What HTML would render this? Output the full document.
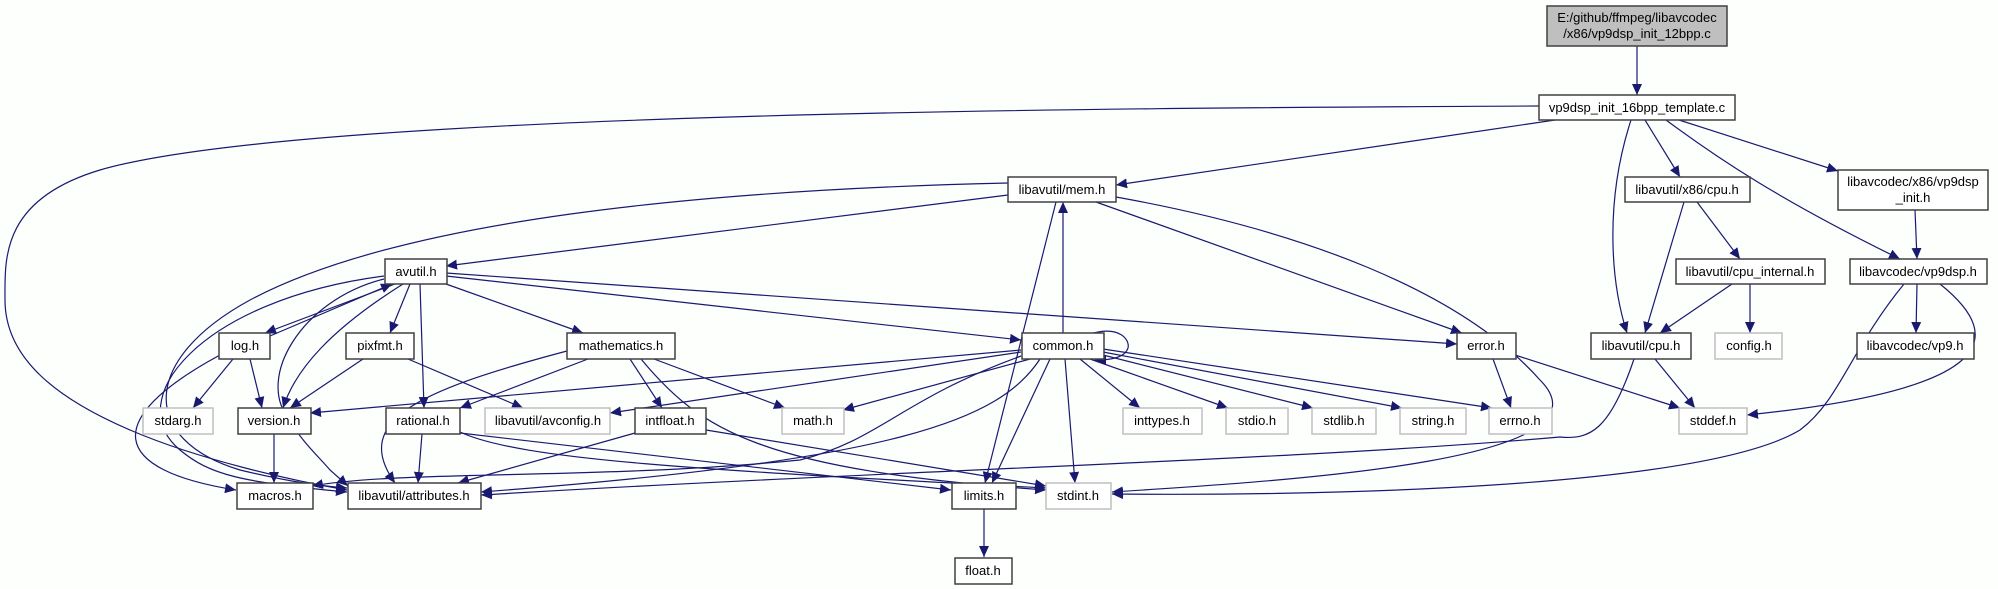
<!DOCTYPE html>
<html><head><meta charset="utf-8"><style>
html,body{margin:0;padding:0;background:#fdfffd}
svg{display:block}
text{font-family:"Liberation Sans",sans-serif;font-size:13px;fill:#000}
.n{fill:#fff;stroke:#404040;stroke-width:1.5}
.g{fill:#fff;stroke:#bfbfbf;stroke-width:1.5}
.m{fill:#bfbfbf;stroke:#404040;stroke-width:1.5}
.e{fill:none;stroke:#191970;stroke-width:1.2;marker-end:url(#a)}
</style></head><body>
<svg width="1998" height="589" viewBox="0 0 1998 589" xmlns="http://www.w3.org/2000/svg">
<defs><marker id="a" markerUnits="userSpaceOnUse" markerWidth="12" markerHeight="10" refX="11" refY="5" orient="auto"><path d="M0,0 L11,5 L0,10 z" fill="#191970"/></marker></defs>
<g>
<path class="e" d="M1637,46 L1637,95"/>
<path class="e" d="M1539,106 C1100,108 300,112 100,170 C0,200 5,260 5,300 C5,360 60,400 130,430 C200,460 290,480 347,490"/>
<path class="e" d="M1555,120 L1116,185"/>
<path class="e" d="M1631,120 C1605,200 1610,280 1627,333"/>
<path class="e" d="M1645,120 L1680,177"/>
<path class="e" d="M1666,120 C1720,160 1780,200 1900,259"/>
<path class="e" d="M1679,120 L1838,171"/>
<path class="e" d="M1915,210 L1917,259"/>
<path class="e" d="M1684,202 L1645,333"/>
<path class="e" d="M1697,202 L1740,259"/>
<path class="e" d="M1732,284 L1660,333"/>
<path class="e" d="M1750,284 L1750,333"/>
<path class="e" d="M1917,284 L1916,333"/>
<path class="e" d="M1940,284 C2010,340 1990,390 1747,415"/>
<path class="e" d="M1904,284 C1850,350 1840,400 1800,430 C1700,490 1300,496 1112,494"/>
<path class="e" d="M1008,195 L446,266"/>
<path class="e" d="M1008,183 C700,190 400,220 250,300 C140,360 140,440 240,470 C290,482 320,486 347,488"/>
<path class="e" d="M1056,202 L985,483"/>
<path class="e" d="M1063,333 L1063,202"/>
<path class="e" d="M1096,202 L1462,333"/>
<path class="e" d="M1116,197 C1300,230 1460,290 1540,380 C1620,460 1300,480 1112,492"/>
<path class="e" d="M395,284 L265,333"/>
<path class="e" d="M270,336 L392,284"/>
<path class="e" d="M403,284 C330,330 295,370 283,408"/>
<path class="e" d="M410,284 L390,333"/>
<path class="e" d="M420,284 L424,408"/>
<path class="e" d="M446,284 L583,333"/>
<path class="e" d="M446,276 L1021,340"/>
<path class="e" d="M446,273 L1457,344"/>
<path class="e" d="M384,276 C200,300 120,400 180,450 C210,475 240,482 347,492"/>
<path class="e" d="M384,279 C300,300 255,380 290,420 C300,440 320,458 330,470 L348,486"/>
<path class="e" d="M233,359 L193,408"/>
<path class="e" d="M250,359 L262,408"/>
<path class="e" d="M220,355 C100,420 110,470 236,490"/>
<path class="e" d="M363,359 L290,408"/>
<path class="e" d="M408,359 L523,408"/>
<path class="e" d="M567,351 C420,390 350,420 395,483"/>
<path class="e" d="M588,359 L460,408"/>
<path class="e" d="M630,359 L662,408"/>
<path class="e" d="M654,359 L785,408"/>
<path class="e" d="M641,359 C700,430 760,470 1046,490"/>
<path class="e" d="M274,434 L274,483"/>
<path class="e" d="M422,434 L418,483"/>
<path class="e" d="M460,433 L951,490"/>
<path class="e" d="M460,432 C520,460 700,470 1046,488"/>
<path class="e" d="M635,433 L458,483"/>
<path class="e" d="M706,430 L1046,486"/>
<path class="e" d="M1021,350 L310,413"/>
<path class="e" d="M1021,352 L610,413"/>
<path class="e" d="M1030,359 L843,410"/>
<path class="e" d="M1021,356 C900,400 880,440 800,460 C600,480 400,470 312,486"/>
<path class="e" d="M1040,359 C1000,420 900,460 481,492"/>
<path class="e" d="M1050,359 L992,483"/>
<path class="e" d="M1065,359 L1075,483"/>
<path class="e" d="M1080,359 L1140,408"/>
<path class="e" d="M1090,359 L1228,408"/>
<path class="e" d="M1103,355 L1313,408"/>
<path class="e" d="M1103,352 L1402,408"/>
<path class="e" d="M1103,349 L1492,408"/>
<path class="e" d="M1090,334 C1120,325 1130,340 1128,348 C1125,358 1110,360 1095,360"/>
<path class="e" d="M1493,359 L1511,408"/>
<path class="e" d="M1515,355 L1680,408"/>
<path class="e" d="M1655,359 L1695,408"/>
<path class="e" d="M1634,359 C1610,430 1590,440 1560,437 C1300,460 900,470 481,495"/>
<path class="e" d="M984,509 L984,557"/>
</g>
<g>
<rect class="m" x="1547" y="6" width="180" height="40"/>
<text x="1637" y="22" text-anchor="middle">E:/github/ffmpeg/libavcodec</text>
<text x="1637" y="38" text-anchor="middle">/x86/vp9dsp_init_12bpp.c</text>
<rect class="n" x="1539" y="95" width="196" height="25"/><text x="1637" y="112" text-anchor="middle">vp9dsp_init_16bpp_template.c</text>
<rect class="n" x="1008" y="177" width="108" height="25"/><text x="1062" y="194" text-anchor="middle">libavutil/mem.h</text>
<rect class="n" x="1625" y="177" width="125" height="25"/><text x="1687" y="194" text-anchor="middle">libavutil/x86/cpu.h</text>
<rect class="n" x="1838" y="170" width="150" height="40"/>
<text x="1913" y="186" text-anchor="middle">libavcodec/x86/vp9dsp</text><text x="1913" y="202" text-anchor="middle">_init.h</text>
<rect class="n" x="1676" y="259" width="149" height="25"/><text x="1750" y="276" text-anchor="middle">libavutil/cpu_internal.h</text>
<rect class="n" x="1850" y="259" width="137" height="25"/><text x="1918" y="276" text-anchor="middle">libavcodec/vp9dsp.h</text>
<rect class="n" x="385" y="259" width="62" height="25"/><text x="416" y="276" text-anchor="middle">avutil.h</text>
<rect class="n" x="219" y="333" width="51" height="26"/><text x="245" y="350" text-anchor="middle">log.h</text>
<rect class="n" x="346" y="333" width="68" height="26"/><text x="380" y="350" text-anchor="middle">pixfmt.h</text>
<rect class="n" x="567" y="333" width="108" height="26"/><text x="621" y="350" text-anchor="middle">mathematics.h</text>
<rect class="n" x="1022" y="333" width="82" height="26"/><text x="1063" y="350" text-anchor="middle">common.h</text>
<rect class="n" x="1457" y="333" width="59" height="26"/><text x="1486" y="350" text-anchor="middle">error.h</text>
<rect class="n" x="1591" y="333" width="100" height="26"/><text x="1641" y="350" text-anchor="middle">libavutil/cpu.h</text>
<rect class="g" x="1715" y="333" width="67" height="26"/><text x="1749" y="350" text-anchor="middle">config.h</text>
<rect class="n" x="1857" y="333" width="117" height="26"/><text x="1915" y="350" text-anchor="middle">libavcodec/vp9.h</text>
<rect class="g" x="143" y="408" width="70" height="26"/><text x="178" y="425" text-anchor="middle">stdarg.h</text>
<rect class="n" x="238" y="408" width="73" height="26"/><text x="274" y="425" text-anchor="middle">version.h</text>
<rect class="n" x="386" y="408" width="74" height="26"/><text x="423" y="425" text-anchor="middle">rational.h</text>
<rect class="g" x="485" y="408" width="125" height="26"/><text x="548" y="425" text-anchor="middle">libavutil/avconfig.h</text>
<rect class="n" x="635" y="408" width="71" height="26"/><text x="670" y="425" text-anchor="middle">intfloat.h</text>
<rect class="g" x="782" y="408" width="62" height="26"/><text x="813" y="425" text-anchor="middle">math.h</text>
<rect class="g" x="1123" y="408" width="79" height="26"/><text x="1162" y="425" text-anchor="middle">inttypes.h</text>
<rect class="g" x="1226" y="408" width="62" height="26"/><text x="1257" y="425" text-anchor="middle">stdio.h</text>
<rect class="g" x="1312" y="408" width="64" height="26"/><text x="1344" y="425" text-anchor="middle">stdlib.h</text>
<rect class="g" x="1400" y="408" width="66" height="26"/><text x="1433" y="425" text-anchor="middle">string.h</text>
<rect class="g" x="1489" y="408" width="63" height="26"/><text x="1520" y="425" text-anchor="middle">errno.h</text>
<rect class="g" x="1679" y="408" width="68" height="26"/><text x="1713" y="425" text-anchor="middle">stddef.h</text>
<rect class="n" x="237" y="483" width="76" height="26"/><text x="275" y="500" text-anchor="middle">macros.h</text>
<rect class="n" x="348" y="483" width="133" height="26"/><text x="414" y="500" text-anchor="middle">libavutil/attributes.h</text>
<rect class="n" x="952" y="483" width="64" height="26"/><text x="984" y="500" text-anchor="middle">limits.h</text>
<rect class="g" x="1046" y="483" width="65" height="26"/><text x="1078" y="500" text-anchor="middle">stdint.h</text>
<rect class="n" x="955" y="558" width="57" height="26"/><text x="983" y="575" text-anchor="middle">float.h</text>
</g>
</svg>
</body></html>
